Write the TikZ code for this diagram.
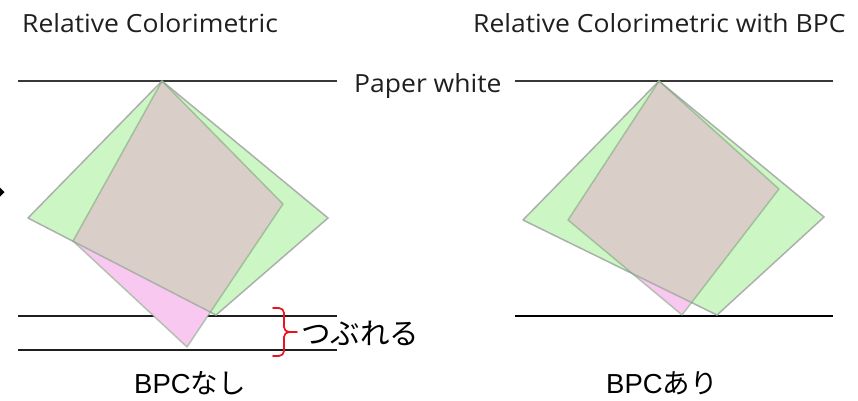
\documentclass[tikz,border=0pt]{standalone}
\usepackage{fontspec}
\setmainfont[FakeStretch=1.06]{Open Sans}
\newfontfamily\jpfont{Noto Sans CJK JP}
\newfontfamily\arialfont{Liberation Sans}
\definecolor{gfill}{RGB}{204,247,196}
\definecolor{pfill}{RGB}{249,200,240}
\definecolor{bfill}{RGB}{218,206,201}
\definecolor{pedge}{RGB}{110,165,110}
\definecolor{gline}{RGB}{172,176,172}
\definecolor{bracered}{RGB}{232,20,30}
\begin{document}
\begin{tikzpicture}[x=1pt,y=-1pt,
  refline/.style={draw=black!78, line width=1.6pt},
  blackline/.style={draw=black!88, line width=1.8pt},
  gedge/.style={draw=gline, line width=1.5pt, line join=round},
  pinkedge/.style={draw=pedge, draw opacity=0.5, line width=1.5pt, line join=round},
  titletext/.style={font=\fontsize{25}{28}\selectfont, text=black!88, inner sep=0pt},
  jptext/.style={font=\jpfont\fontsize{29.5}{33}\selectfont, inner sep=0pt},
  bpctext/.style={inner sep=0pt}]
\useasboundingbox (0,0) rectangle (858,400);

% titles
\node[titletext, anchor=base west] (t1) at (22,32) {Relative Colorimetric};
\node[titletext, anchor=base west] (t2) at (473,32) {Relative Colorimetric with BPC};

% paper white lines
\draw[refline] (18,81) -- (337,81);
\draw[refline] (515,81) -- (833,81);
\node[titletext, anchor=base west] (pw) at (354,92) {Paper white};

% left: black point lines
\draw[blackline] (18,316) -- (337,316);
\draw[blackline] (18,350) -- (337,350);
% right: black point line
\draw[draw=black, line width=2.2pt] (515,316) -- (833,316);

% tiny arrowhead at left edge
\fill[black] (0,187.5) -- (4.5,192) -- (0,196.5) -- cycle;

% ---------- left gamut ----------
\coordinate (LT) at (162,81);
\coordinate (LGl) at (28,218);
\coordinate (LGb) at (216,315);
\coordinate (LGr) at (328,218);
\coordinate (LPr) at (283,204);
\coordinate (LPb) at (187,347);
\coordinate (LPl) at (73,241);
\fill[gfill] (LT) -- (LGl) -- (LGb) -- (LGr) -- cycle;
\fill[pfill] (LT) -- (LPr) -- (LPb) -- (LPl) -- cycle;
\begin{scope}
  \clip (LT) -- (LGl) -- (LGb) -- (LGr) -- cycle;
  \fill[bfill] (LT) -- (LPr) -- (LPb) -- (LPl) -- cycle;
\end{scope}
\draw[gedge] (LT) -- (LGl) -- (LGb) -- (LGr) -- cycle;
\draw[pinkedge] (LT) -- (LPr) -- (LPb) -- (LPl) -- cycle;

% ---------- right gamut ----------
\coordinate (RT) at (659,81);
\coordinate (RGl) at (523,220);
\coordinate (RGb) at (717,315);
\coordinate (RGr) at (824,217);
\coordinate (RPr) at (779,189);
\coordinate (RPb) at (682,315);
\coordinate (RPl) at (568,220);
\fill[gfill] (RT) -- (RGl) -- (RGb) -- (RGr) -- cycle;
\fill[pfill] (RT) -- (RPr) -- (RPb) -- (RPl) -- cycle;
\begin{scope}
  \clip (RT) -- (RGl) -- (RGb) -- (RGr) -- cycle;
  \fill[bfill] (RT) -- (RPr) -- (RPb) -- (RPl) -- cycle;
\end{scope}
\draw[gedge] (RT) -- (RGl) -- (RGb) -- (RGr) -- cycle;
\draw[pinkedge] (RT) -- (RPr) -- (RPb) -- (RPl) -- cycle;

% red brace
\draw[bracered, line width=1.7pt, line cap=round, line join=round]
  (273,308) -- (279,308) to[out=0,in=90] (284,313) -- (284,327)
  to[out=-90,in=180] (289,332) -- (297,332);
\draw[bracered, line width=1.7pt, line cap=round, line join=round]
  (289,332) to[out=180,in=90] (284,337) -- (284,351)
  to[out=-90,in=0] (279,356) -- (273,356);
\node[jptext, anchor=west] (tsub) at (301,333) {つぶれる};

% bottom labels
\node[bpctext, anchor=base] (bn) at (190,393)
  {\arialfont\fontsize{27.5}{31}\selectfont BPC\jpfont なし};
\node[bpctext, anchor=base] (ba) at (662,393)
  {\arialfont\fontsize{27.5}{31}\selectfont BPC\jpfont あり};
\end{tikzpicture}
\end{document}
